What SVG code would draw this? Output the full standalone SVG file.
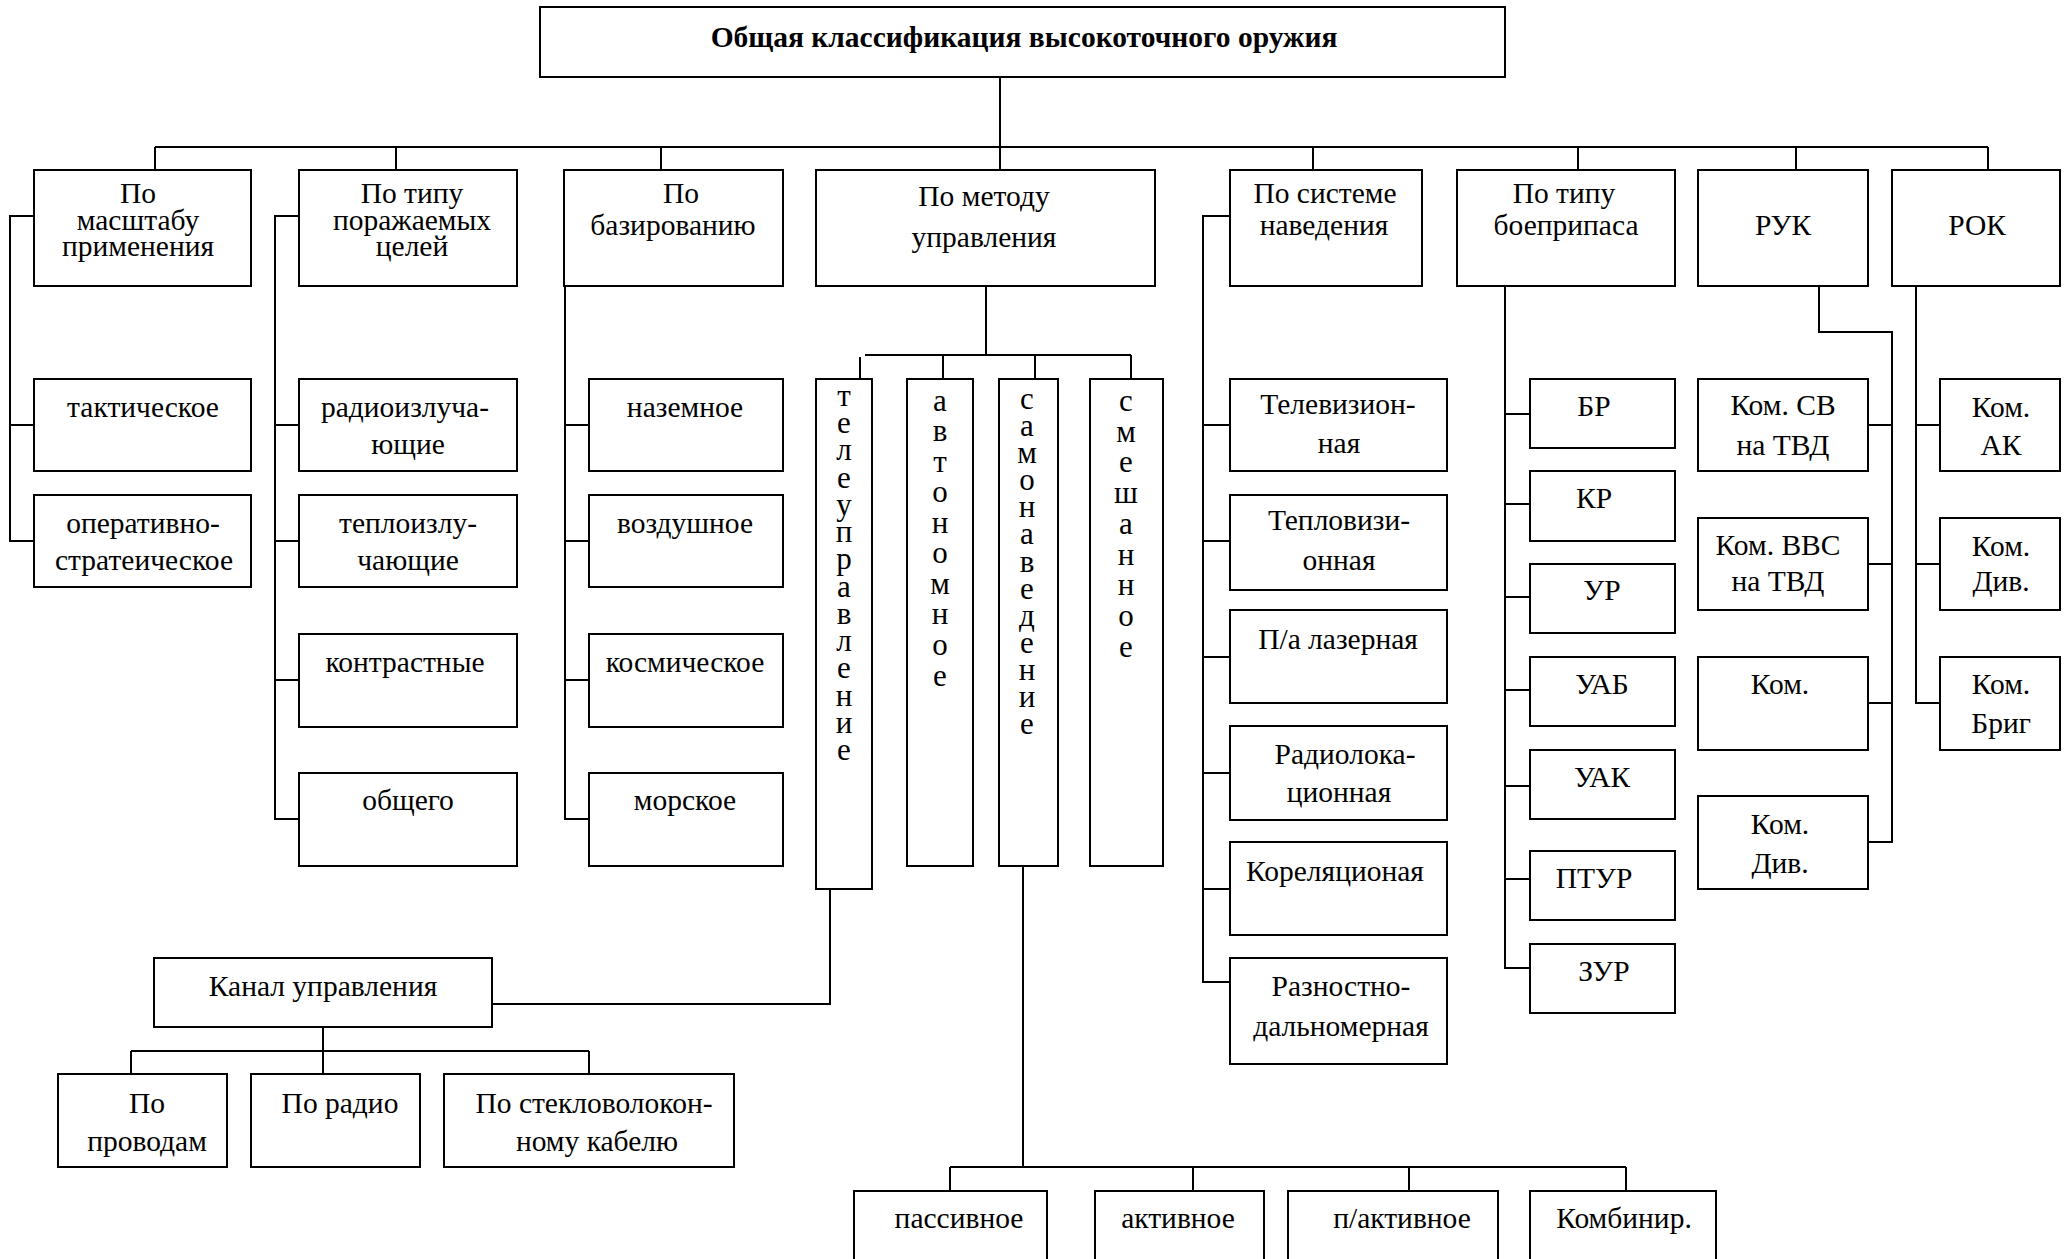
<svg xmlns="http://www.w3.org/2000/svg" width="2071" height="1259" viewBox="0 0 2071 1259">
<style>
.b{fill:#fff;stroke:#000;stroke-width:2}
.c{fill:none;stroke:#000;stroke-width:2}
text{font-family:"Liberation Serif","Times New Roman",serif;font-size:29.5px;text-anchor:middle;fill:#000}
.h{font-weight:bold;font-size:29.5px}
.v{font-size:31px}
</style>
<rect width="2071" height="1259" fill="#fff"/>
<g id="connectors">
<path class="c" d="M1000 77V170M155 147H1988M155 147V170M396 147V170M661 147V170M1313 147V170M1578 147V170M1796 147V170M1988 147V170"/>
<path class="c" d="M34 216H10V541H34M10 425H34"/>
<path class="c" d="M299 216H275V819H299M275 425H299M275 541H299M275 680H299"/>
<path class="c" d="M565 286V819H589M565 425H589M565 541H589M565 680H589"/>
<path class="c" d="M986 286V355M865 355H1131M860 357V379M943 355V379M1035 355V379M1131 355V379"/>
<path class="c" d="M830 889V1004H492"/>
<path class="c" d="M323 1027V1051M131 1051H589M131 1051V1074M323 1051V1074M589 1051V1074"/>
<path class="c" d="M1023 866V1167M950 1167H1626M950 1167V1191M1193 1167V1191M1409 1167V1191M1626 1167V1191"/>
<path class="c" d="M1230 216H1203V982H1230M1203 425H1230M1203 541H1230M1203 657H1230M1203 773H1230M1203 889H1230"/>
<path class="c" d="M1505 286V968H1530M1505 414H1530M1505 504H1530M1505 597H1530M1505 690H1530M1505 786H1530M1505 879H1530"/>
<path class="c" d="M1819 286V332H1892V842H1868M1868 425H1892M1868 564H1892M1868 703H1892"/>
<path class="c" d="M1916 286V703H1940M1916 425H1940M1916 564H1940"/>
</g>
<g id="root"><rect class="b" x="540" y="7" width="965" height="70"/><text class="h" x="1024" y="47">Общая классификация высокоточного оружия</text></g>
<g id="c1"><rect class="b" x="34" y="170" width="217" height="116"/><text x="138" y="203">По</text><text x="138" y="230">масштабу</text><text x="138" y="256">применения</text></g>
<g id="c2"><rect class="b" x="299" y="170" width="218" height="116"/><text x="412" y="203">По типу</text><text x="412" y="230">поражаемых</text><text x="412" y="256">целей</text></g>
<g id="c3"><rect class="b" x="564" y="170" width="219" height="116"/><text x="681" y="203">По</text><text x="673" y="235">базированию</text></g>
<g id="c4"><rect class="b" x="816" y="170" width="339" height="116"/><text x="984" y="206">По методу</text><text x="984" y="247">управления</text></g>
<g id="c5"><rect class="b" x="1230" y="170" width="192" height="116"/><text x="1325" y="203">По системе</text><text x="1324" y="235">наведения</text></g>
<g id="c6"><rect class="b" x="1457" y="170" width="218" height="116"/><text x="1564" y="203">По типу</text><text x="1566" y="235">боеприпаса</text></g>
<g id="c7"><rect class="b" x="1698" y="170" width="170" height="116"/><text x="1783" y="235">РУК</text></g>
<g id="c8"><rect class="b" x="1892" y="170" width="168" height="116"/><text x="1977" y="235">РОК</text></g>
<g id="l1a"><rect class="b" x="34" y="379" width="217" height="92"/><text x="143" y="417">тактическое</text></g>
<g id="l1b"><rect class="b" x="34" y="495" width="217" height="92"/><text x="143" y="533">оперативно-</text><text x="144" y="570">стратеическое</text></g>
<g id="l2a"><rect class="b" x="299" y="379" width="218" height="92"/><text x="405" y="417">радиоизлуча-</text><text x="408" y="454">ющие</text></g>
<g id="l2b"><rect class="b" x="299" y="495" width="218" height="92"/><text x="408" y="533">теплоизлу-</text><text x="408" y="570">чающие</text></g>
<g id="l2c"><rect class="b" x="299" y="634" width="218" height="93"/><text x="405" y="672">контрастные</text></g>
<g id="l2d"><rect class="b" x="299" y="773" width="218" height="93"/><text x="408" y="810">общего</text></g>
<g id="l3a"><rect class="b" x="589" y="379" width="194" height="92"/><text x="685" y="417">наземное</text></g>
<g id="l3b"><rect class="b" x="589" y="495" width="194" height="92"/><text x="685" y="533">воздушное</text></g>
<g id="l3c"><rect class="b" x="589" y="634" width="194" height="93"/><text x="685" y="672">космическое</text></g>
<g id="l3d"><rect class="b" x="589" y="773" width="194" height="93"/><text x="685" y="810">морское</text></g>
<g id="v1"><rect class="b" x="816" y="379" width="56" height="510"/><text class="v" x="844 844 844 844 844 844 844 844 844 844 844 844 844 844" y="406 433 460 488 515 542 569 597 624 651 678 706 733 760">телеуправление</text></g>
<g id="v2"><rect class="b" x="907" y="379" width="66" height="487"/><text class="v" x="940 940 940 940 940 940 940 940 940 940" y="411 441 472 502 533 563 594 624 655 686">автономное</text></g>
<g id="v3"><rect class="b" x="999" y="379" width="59" height="487"/><text class="v" x="1027 1027 1027 1027 1027 1027 1027 1027 1027 1027 1027 1027 1027" y="409 436 463 490 517 544 572 599 626 653 680 707 734">самонаведение</text></g>
<g id="v4"><rect class="b" x="1090" y="379" width="73" height="487"/><text class="v" x="1126 1126 1126 1126 1126 1126 1126 1126 1126" y="411 442 472 503 534 565 595 626 657">смешанное</text></g>
<g id="kanal"><rect class="b" x="154" y="958" width="338" height="69"/><text x="323" y="996">Канал управления</text></g>
<g id="k1"><rect class="b" x="58" y="1074" width="169" height="93"/><text x="147" y="1113">По</text><text x="147" y="1151">проводам</text></g>
<g id="k2"><rect class="b" x="251" y="1074" width="169" height="93"/><text x="340" y="1113">По радио</text></g>
<g id="k3"><rect class="b" x="444" y="1074" width="290" height="93"/><text x="594" y="1113">По стекловолокон-</text><text x="597" y="1151">ному кабелю</text></g>
<g id="s1"><rect class="b" x="854" y="1191" width="193" height="80"/><text x="959" y="1228">пассивное</text></g>
<g id="s2"><rect class="b" x="1095" y="1191" width="169" height="80"/><text x="1178" y="1228">активное</text></g>
<g id="s3"><rect class="b" x="1288" y="1191" width="210" height="80"/><text x="1402" y="1228">п/активное</text></g>
<g id="s4"><rect class="b" x="1530" y="1191" width="186" height="80"/><text x="1624" y="1228">Комбинир.</text></g>
<g id="l5a"><rect class="b" x="1230" y="379" width="217" height="92"/><text x="1338" y="414">Телевизион-</text><text x="1339" y="453">ная</text></g>
<g id="l5b"><rect class="b" x="1230" y="495" width="217" height="95"/><text x="1339" y="530">Тепловизи-</text><text x="1339" y="570">онная</text></g>
<g id="l5c"><rect class="b" x="1230" y="610" width="217" height="93"/><text x="1338" y="649">П/а лазерная</text></g>
<g id="l5d"><rect class="b" x="1230" y="726" width="217" height="94"/><text x="1345" y="764">Радиолока-</text><text x="1339" y="802">ционная</text></g>
<g id="l5e"><rect class="b" x="1230" y="842" width="217" height="93"/><text x="1335" y="881">Кореляционая</text></g>
<g id="l5f"><rect class="b" x="1230" y="958" width="217" height="106"/><text x="1341" y="996">Разностно-</text><text x="1341" y="1036">дальномерная</text></g>
<g id="l6a"><rect class="b" x="1530" y="379" width="145" height="69"/><text x="1594" y="416">БР</text></g>
<g id="l6b"><rect class="b" x="1530" y="471" width="145" height="70"/><text x="1594" y="508">КР</text></g>
<g id="l6c"><rect class="b" x="1530" y="564" width="145" height="69"/><text x="1602" y="600">УР</text></g>
<g id="l6d"><rect class="b" x="1530" y="657" width="145" height="69"/><text x="1602" y="694">УАБ</text></g>
<g id="l6e"><rect class="b" x="1530" y="750" width="145" height="69"/><text x="1602" y="787">УАК</text></g>
<g id="l6f"><rect class="b" x="1530" y="851" width="145" height="69"/><text x="1594" y="888">ПТУР</text></g>
<g id="l6g"><rect class="b" x="1530" y="944" width="145" height="69"/><text x="1604" y="981">ЗУР</text></g>
<g id="l7a"><rect class="b" x="1698" y="379" width="170" height="92"/><text x="1783" y="415">Ком. СВ</text><text x="1783" y="455">на ТВД</text></g>
<g id="l7b"><rect class="b" x="1698" y="518" width="170" height="92"/><text x="1778" y="555">Ком. ВВС</text><text x="1778" y="591">на ТВД</text></g>
<g id="l7c"><rect class="b" x="1698" y="657" width="170" height="93"/><text x="1780" y="694">Ком.</text></g>
<g id="l7d"><rect class="b" x="1698" y="796" width="170" height="93"/><text x="1780" y="834">Ком.</text><text x="1780" y="873">Див.</text></g>
<g id="l8a"><rect class="b" x="1940" y="379" width="120" height="92"/><text x="2001" y="417">Ком.</text><text x="2001" y="455">АК</text></g>
<g id="l8b"><rect class="b" x="1940" y="518" width="120" height="92"/><text x="2001" y="556">Ком.</text><text x="2001" y="591">Див.</text></g>
<g id="l8c"><rect class="b" x="1940" y="657" width="120" height="93"/><text x="2001" y="694">Ком.</text><text x="2001" y="733">Бриг</text></g>
</svg>
